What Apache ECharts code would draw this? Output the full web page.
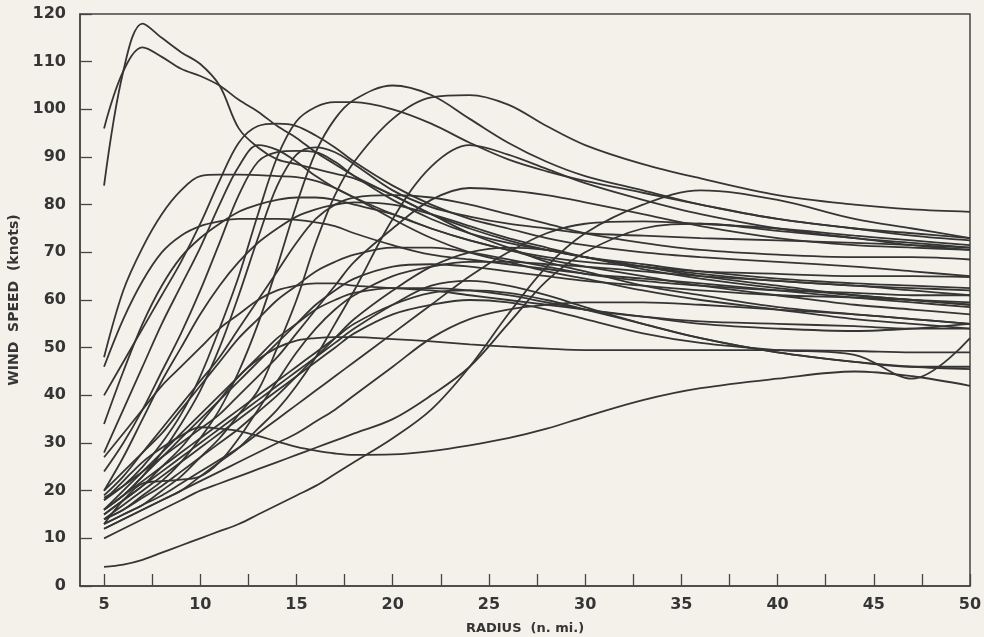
<!DOCTYPE html>
<html>
<head>
<meta charset="utf-8">
<script src="https://cdn.jsdelivr.net/npm/echarts@6/dist/echarts.min.js"></script>
<style>
html,body{margin:0;padding:0;background:#f3f1e9;}
#chart{width:984px;height:637px;}
</style>
</head>
<body>
<div id="chart"></div>
<script>
// Radius sample points (n. mi.)
var radii = [5,6,7,8,9,10,11,12,13,14,15,16,17,18,20,22,24,26,28,30,33,36,40,44,47,50];
var xTicks = [5,7.5,10,12.5,15,17.5,20,22.5,25,27.5,30,32.5,35,37.5,40,42.5,45,47.5,50];
var xLabels = [5,10,15,20,25,30,35,40,45,50];

// Wind speed profiles (knots), one per storm
var s1  = [96,108,113,111,108.5,107,105,102,99.5,96.5,94,91,88.5,86,82,78,75,72.5,70.5,69,66.5,64.5,62.5,61,60,59];
var s2  = [84,108,118,115,112,109.5,105,96,92,89.5,88.5,87.5,86.5,85.5,82,78,74,71,68,66,63,61,58.5,57,56,55];
var s3  = [48,62,71,78,83,86,86.3,86.3,86.2,86,85.8,85,83.5,81.5,77,73,70,68,66,64.5,62,60,58,56,55,54];
var s4  = [46,56,64,70,73.5,75.5,76.5,77,77,77,76.8,76.3,75.5,74,71.5,69.5,68.5,67.5,66.5,65.5,64.5,63.5,62,60.5,59.5,58.5];
var s5  = [40,47,54,61,68,76,85,93,96.5,97,96.5,94.5,92,89,84,80,77,75,73,71.5,70,69,68,67,66,65];
var s6  = [28,37,46,55,63,71,80,88,92.5,91.5,89,86,83.5,81.5,78,75,72.5,70.5,68.5,67,65,63,61,59,58,57];
var s7  = [24,30,37,45,53,62,72,82,89,91,91.3,91,89,86,81,77,74,72,70.5,69,67.5,66,64.5,63.5,63,62.5];
var s8  = [16,19,23,28,34,41,50,61,73,84,90.5,92,91,88.5,83,79.5,77.5,76,75,74,73.5,73,72.5,72,71.5,71];
var s9  = [18,21,25,30,36,44,54,65,78,90,97.5,100.5,101.5,101.5,100,97,93,89.5,87,85,82.5,80,77,75,74,73];
var s10 = [14,16,19,22,26,31,37,45,55,67,80,91,98,102,105,103,98,93,89,86,83,80,77,75,73.5,72.5];
var s11 = [13,15,17,20,23,27,31,36,41,50,60,72,82,89,98,102.5,103,101,96.5,92.5,88.5,85.5,82,80,79,78.5];
var s12 = [12,14,16,18,20,23,26,29,33,37,42,48,55,62,77,88,92.5,90.5,87.5,84.5,81,78,75,73,72,71];
var s13 = [20,27,35,43,50,57,63,68,72,75,77.5,79,80,80.5,80,78,75.5,73,71,69,67,65.5,64,63,62,61];
var s14 = [19,23,28,33,38,43,48,54,60,66,72,77,80,81.5,82,81.5,80,78,76,74,72,70.5,69.5,69,69,68.5];
var s15 = [18.5,21,24,27,30,33,36,40,44,48,53,58,63,68,75,81,83.5,83,82,80.5,78,75.5,73,71.5,71,70.5];
var s16 = [16,19,23,27,31,35,39,43,47,51,55,59,62,64.5,67,67.5,67,66,65,64,63,62,61,60.5,60,59.5];
var s17 = [16,20,24,28,32,36,40,44,48,52,55,58,60,61.5,62.5,62.5,62,61,59.5,58,56.5,55.5,55,54.5,54,54];
var s18 = [15,18,21,25,29,34,39,44,47.5,50,51.5,52,52.2,52.2,51.8,51.3,50.7,50.2,49.8,49.5,49.5,49.5,49.5,49.3,49,49];
var s19 = [14,16,18.5,21,24,27,30,33,36.5,40,44,48,52,56,62,67,70,71,70.5,69,67,65,63,61,60,59];
var s20 = [13,15,17,19,21.5,24,26.5,29,32,35,38,41,44,47,53,59,65,70,74,76,76.5,76,75,73.5,72.5,71.5];
var s21 = [13,18,21.5,22,22.3,23,26,31,37,43,49,54,58,61,65,67,68,68,67.5,67,66,65,64,63,62.5,62];
var s22 = [12,14,16,18,20,22,24,26,28,30,32,34.5,37,40,46,52,56,58,59,59.5,59.5,59,58,57,56,55];
var s23 = [10,12,14,16,18,20,21.5,23,24.5,26,27.5,29,30.5,32,35,40,46,55,64,70,75,76,74.5,73,71.5,70.5];
var s24 = [4,4.5,5.5,7,8.5,10,11.5,13,15,17,19,21,23.5,26,31,37,46,57,67,74,80,83,81,77,75,73];
var s25 = [18,22,26,29,31.5,33.3,33,32.5,31.5,30.3,29.2,28.4,27.8,27.5,27.6,28.3,29.5,31,33,35.5,39,41.5,43.5,45,44,42];
var s26 = [27,32,37,42,46,50,54,57,60,62,63,63.5,63.5,63,62.5,62,61,60,59,58,56.5,55,54,53.5,54,55];
var s27 = [20,24,28,32,37,42,47,52,56,60,63,66,68,69.5,71,71,70,68.5,67,65.5,64,63,62,61.5,61,61];
var s28 = [16,19,22,25,28,31,34,37,40,43,46,49,52,55,59,61.5,62,61.5,60,58,55,52,49,47,46,46];
var s29 = [14,17,20,23,26,29,32,35,38,41,44,47,50,53,57,59,60,59.5,58,56,53,51,49.5,48.5,43.5,52];
var s30 = [15,18,21,24,27,30,33,36,39,42,45,48,51,54,59,63,64,63,61,58.5,55,52,49,47,46,45.5];
var s31 = [34,45,55,63,69,73,76,78.5,80,81,81.5,81.5,81,80,78,75,72.5,70.5,69,68,67,66,65.5,65,65,64.8];

var profiles = [s1,s2,s3,s4,s5,s6,s7,s8,s9,s10,s11,s12,s13,s14,s15,s16,s17,s18,s19,s20,s21,s22,s23,s24,s25,s26,s27,s28,s29,s30,s31];

var ink = '#353535';
var series = profiles.map(function (vals, i) {
  return {
    type: 'line',
    name: 'storm ' + (i + 1),
    data: radii.map(function (r, k) { return [r, vals[k]]; }),
    showSymbol: false,
    smooth: 0.35,
    silent: true,
    lineStyle: { color: ink, width: 1.8 }
  };
});

var chart = echarts.init(document.getElementById('chart'), null, { renderer: 'canvas' });
chart.setOption({
  backgroundColor: '#f3f1e9',
  animation: false,
  grid: { left: 80, right: 14, top: 14, bottom: 51, outerBoundsMode: 'none', containLabel: false, show: true, borderColor: '#444', borderWidth: 1.5, backgroundColor: 'transparent' },
  xAxis: {
    type: 'value',
    min: 3.75,
    max: 50,
    name: 'RADIUS  (n. mi.)',
    nameLocation: 'middle',
    nameGap: 36,
    nameTextStyle: { color: ink, fontFamily: 'DejaVu Sans', fontSize: 13, fontWeight: 'bold' },
    axisLine: { show: true, lineStyle: { color: '#444', width: 1.5 } },
    axisTick: { show: true, inside: true, length: 12, customValues: xTicks, lineStyle: { color: '#444', width: 1.3 } },
    axisLabel: { customValues: xLabels, color: ink, fontFamily: 'DejaVu Sans', fontSize: 16, fontWeight: 'bold', margin: 11 },
    splitLine: { show: false }
  },
  yAxis: {
    type: 'value',
    min: 0,
    max: 120,
    interval: 10,
    name: 'WIND  SPEED  (knots)',
    nameLocation: 'middle',
    nameGap: 51,
    nameTextStyle: { color: ink, fontFamily: 'DejaVu Sans', fontSize: 14, fontWeight: 'bold' },
    axisLine: { show: true, lineStyle: { color: '#444', width: 1.5 } },
    axisTick: { show: true, inside: true, length: 12, lineStyle: { color: '#444', width: 1.3 } },
    axisLabel: { color: ink, fontFamily: 'DejaVu Sans', fontSize: 16, fontWeight: 'bold', margin: 14 },
    splitLine: { show: false }
  },
  series: series
});
</script>
</body>
</html>
